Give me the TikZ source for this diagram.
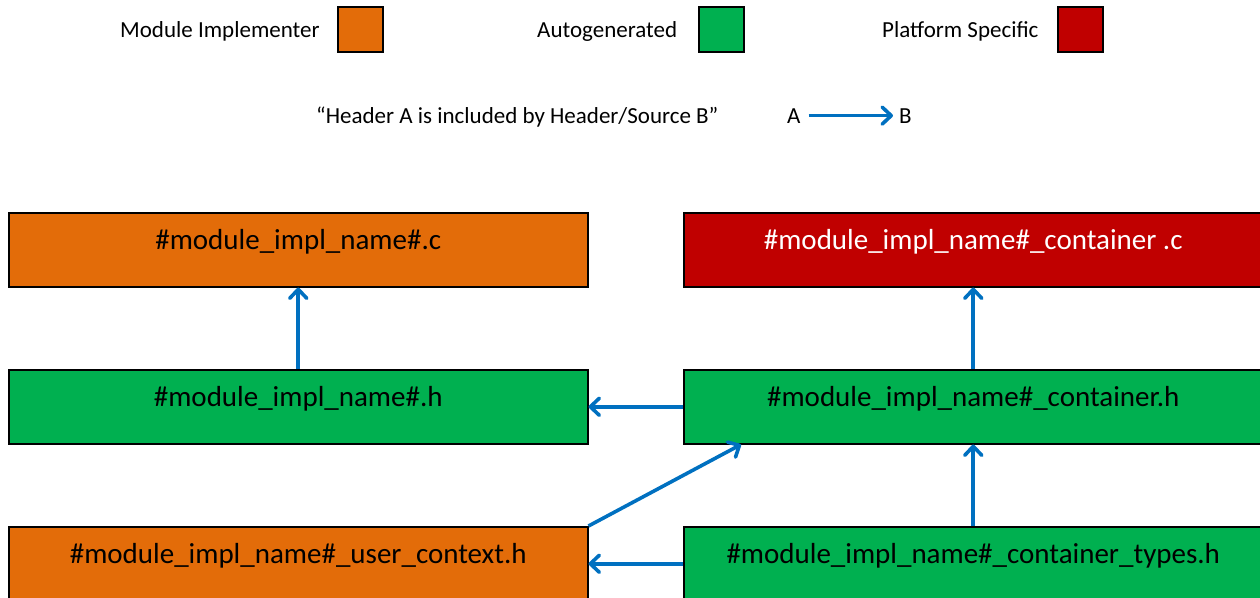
\documentclass[tikz,border=0pt]{standalone}
\usepackage{fontspec}
\setmainfont{Carlito}
\usetikzlibrary{arrows.meta}
\definecolor{orng}{HTML}{E36C09}
\definecolor{grn}{HTML}{00B050}
\definecolor{rd}{HTML}{C00000}
\definecolor{blu}{HTML}{0070C0}
\begin{document}
\begin{tikzpicture}[x=1pt,y=-1pt,
 filebox/.style={draw=black, line width=1.5pt, minimum width=579pt, inner xsep=0pt, inner ysep=0pt,
   text height=37pt, text depth=37pt, font=\fontsize{29}{34}\selectfont, anchor=north west},
 legtext/.style={font=\fontsize{23}{28}\selectfont, inner sep=0pt},
 swatch/.style={draw=black, line width=2pt, minimum size=45pt, inner sep=0pt},
 dep/.style={draw=blu, line width=3.6pt, -{Straight Barb[length=9pt,width=17pt,line width=3.6pt,round]}}]
\useasboundingbox (0,0) rectangle (1260,597);
\clip (0,0) rectangle (1260,597);
% legend
\node[legtext, anchor=base west] (lmi) at (120,37) {Module Implementer};
\node[swatch, fill=orng] (smi) at (360.5,29.5) {};
\node[legtext, anchor=base west] (lag) at (537,37) {Autogenerated};
\node[swatch, fill=grn] (sag) at (721.5,29.5) {};
\node[legtext, anchor=base west] (lps) at (882,37) {Platform Specific};
\node[swatch, fill=rd] (sps) at (1080.5,29.5) {};
\node[legtext, anchor=base west] (lq) at (316,123) {“Header A is included by Header/Source B”};
\node[legtext, anchor=base west] (la) at (787,123) {A};
\node[legtext, anchor=base west] (lb) at (899,123) {B};
\draw[dep] ([xshift=8pt]la.east) -- ([xshift=-6pt]lb.west);
% boxes
\node[filebox, fill=orng] (c) at (8,212) {\#module\_impl\_name\#.c};
\node[filebox, fill=rd, text=white] (cc) at (683,212) {\#module\_impl\_name\#\_container .c};
\node[filebox, fill=grn] (h) at (8,369) {\#module\_impl\_name\#.h};
\node[filebox, fill=grn] (ch) at (683,369) {\#module\_impl\_name\#\_container.h};
\node[filebox, fill=orng] (uc) at (8,526) {\#module\_impl\_name\#\_user\_context.h};
\node[filebox, fill=grn] (ct) at (683,526) {\#module\_impl\_name\#\_container\_types.h};
% connectors
\draw[dep] (h.north) -- (c.south);
\draw[dep] (ch.north) -- (cc.south);
\draw[dep] (ch.west) -- (h.east);
\draw[dep] (ct.north) -- (ch.south);
\draw[dep] (ct.west) -- (uc.east);
\draw[dep] (uc.north east) -- ([xshift=58pt]ch.south west);
\end{tikzpicture}
\end{document}
